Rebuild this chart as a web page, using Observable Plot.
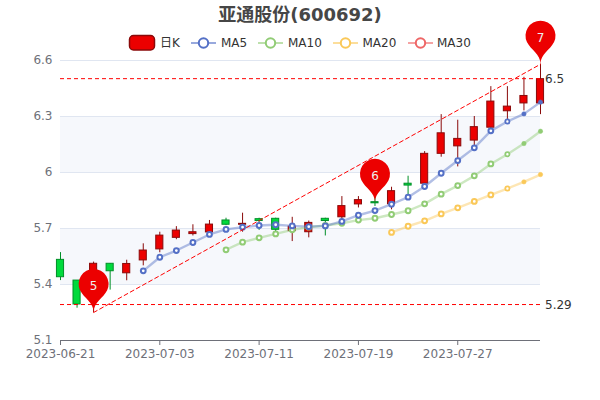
<!DOCTYPE html>
<html><head><meta charset="utf-8">
<script src="https://cdn.jsdelivr.net/npm/d3@7"></script>
<script src="https://cdn.jsdelivr.net/npm/@observablehq/plot@0.6"></script>
<style>
html,body{margin:0;padding:0;background:#fff;width:600px;height:400px;overflow:hidden}
#wrap{position:relative;width:600px;height:400px;font-family:"DejaVu Sans","Noto Sans CJK SC",sans-serif}
#title{position:absolute;left:0;width:600px;top:4px;text-align:center;font-size:18px;font-weight:bold;color:#464646;line-height:22px}
.lg{position:absolute;top:36px;font-size:12px;color:#333;line-height:14px;white-space:nowrap}
.ic{position:absolute;top:35px}
svg.plot{position:absolute;left:0;top:0}
</style></head><body>
<div id="wrap"></div>
<script>
const dates=["2023-06-21","2023-06-26","2023-06-27","2023-06-28","2023-06-29","2023-06-30","2023-07-03","2023-07-04","2023-07-05","2023-07-06","2023-07-07","2023-07-10","2023-07-11","2023-07-12","2023-07-13","2023-07-14","2023-07-17","2023-07-18","2023-07-19","2023-07-20","2023-07-21","2023-07-24","2023-07-25","2023-07-26","2023-07-27","2023-07-28","2023-07-31","2023-08-01","2023-08-02","2023-08-03"];
const open =[5.532,5.421,5.31,5.511,5.46,5.529,5.588,5.65,5.67,5.679,5.743,5.72,5.75,5.752,5.686,5.68,5.752,5.76,5.829,5.841,5.83,5.94,5.94,6.10,6.14,6.171,6.24,6.328,6.37,6.37];
const close=[5.439,5.293,5.511,5.471,5.51,5.582,5.662,5.689,5.68,5.721,5.72,5.725,5.74,5.693,5.71,5.73,5.74,5.82,5.852,5.835,5.90,5.93,6.10,6.21,6.18,6.243,6.38,6.353,6.41,6.50];
const low  =[5.421,5.273,5.25,5.37,5.42,5.50,5.57,5.64,5.66,5.67,5.715,5.68,5.69,5.654,5.63,5.65,5.66,5.738,5.81,5.818,5.80,5.877,5.94,6.082,6.03,6.14,6.225,6.27,6.33,6.31];
const high =[5.571,5.421,5.52,5.511,5.53,5.618,5.68,5.71,5.72,5.743,5.755,5.782,5.755,5.755,5.76,5.74,5.755,5.871,5.871,5.868,5.921,5.98,6.112,6.31,6.28,6.30,6.46,6.46,6.51,6.58];
const ma5 =[null,null,null,null,null,5.473,5.546,5.582,5.625,5.668,5.695,5.707,5.716,5.72,5.714,5.71,5.714,5.738,5.771,5.796,5.83,5.868,5.925,5.996,6.064,6.132,6.223,6.273,6.314,6.377];
const ma10=[null,null,null,null,null,null,null,null,null,null,5.586,5.627,5.65,5.671,5.693,5.707,5.716,5.728,5.745,5.755,5.775,5.795,5.832,5.884,5.93,5.982,6.046,6.098,6.155,6.221];
const ma20=[null,null,null,null,null,null,null,null,null,null,null,null,null,null,null,null,null,null,null,null,5.679,5.712,5.741,5.778,5.811,5.845,5.88,5.914,5.95,5.989];
const yTicks=[5.1,5.4,5.7,6,6.3,6.6];
const tickIdx=[0,6,12,18,24];
const bandsBlue=[[5.4,5.7],[6.0,6.3]];
const hLines=[{v:6.5,t:"6.5"},{v:5.29,t:"5.29"}];
const pins=[{i:2,v:5.25,t:"5"},{i:19,v:5.84,t:"6"},{i:29,v:6.58,t:"7"}];
const slant=[{i:2,v:5.25},{i:29,v:6.58}];

const RED="#ec0000",RED_B="#8a0a0a",GRN="#00da3c",GRN_B="#008f28";
const C5="#5470c6",C10="#91cc75",C20="#fac858",C30="#ee6666";
const rows=dates.map((d,i)=>({i,o:open[i],c:close[i],l:low[i],h:high[i]}));
const up=rows.filter(d=>d.c>=d.o),down=rows.filter(d=>d.c<d.o);
const HW=0.215;

// ECharts-like pin: tip at the anchor point
const pinSymbol={draw(p){
  const r=15,h=50,dy=r*r/(h-r),cy=-h+r+dy,ang=Math.asin(dy/r),dx=Math.cos(ang)*r;
  const tx=Math.sin(ang),ty=Math.cos(ang),c1=r*.6,c2=r*.7;
  p.moveTo(-dx,cy+dy);
  p.arc(0,cy,r,Math.PI-ang,Math.PI*2+ang);
  p.bezierCurveTo(dx-tx*c1,cy+dy+ty*c1,0,-c2,0,0);
  p.bezierCurveTo(0,-c2,-dx+tx*c1,cy+dy+ty*c1,-dx,cy+dy);
  p.closePath();
}};

function maMarks(arr,color){
  const pts=arr.map((v,i)=>({i,v})).filter(d=>d.v!=null);
  const n=pts.length;
  return [
    Plot.line(pts,{x:"i",y:"v",stroke:color,strokeWidth:2.4,strokeOpacity:.45,curve:"linear"}),
    Plot.dot(pts.slice(0,n-3),{x:"i",y:"v",r:2.4,fill:"#fff",stroke:color,strokeWidth:2}),
    Plot.dot(pts.slice(n-3,n-2),{x:"i",y:"v",r:2.1,fill:"#fff",stroke:color,strokeWidth:1.8}),
    Plot.dot(pts.slice(n-2),{x:"i",y:"v",r:2.2,fill:color,stroke:color,strokeWidth:.5})
  ];
}

const chart=Plot.plot({
  width:600,height:400,marginTop:60,marginBottom:60,marginLeft:60,marginRight:60,
  style:{background:"transparent",fontFamily:'"DejaVu Sans","Noto Sans CJK SC",sans-serif',fontSize:"12px",overflow:"visible"},
  x:{type:"linear",domain:[0,29],range:[60,540]},
  y:{type:"linear",domain:[5.1,6.6],range:[340,60]},
  marks:[
    Plot.rect(bandsBlue,{x1:()=>0,x2:()=>29,y1:d=>d[0],y2:d=>d[1],fill:"#f6f8fc"}),
    Plot.ruleY(yTicks.filter(v=>v>5.1),{y:d=>d,x1:()=>0,x2:()=>29,stroke:"#e0e6f1",strokeWidth:1}),
    Plot.axisY(yTicks,{tickSize:0,tickPadding:8,tickFormat:d=>String(d),fill:"#6e7079",fontSize:12,label:null,marginLeft:60}),
    Plot.ruleY([5.1],{x1:()=>0,x2:()=>29,stroke:"#6e7079",strokeWidth:1}),
    Plot.axisX(tickIdx,{tickSize:5,tickPadding:4,tickFormat:i=>dates[i],stroke:"#6e7079",fill:"#6e7079",fontSize:12,label:null,textStroke:"none"}),
    Plot.ruleX(up,{x:"i",y1:"l",y2:"h",stroke:RED_B,strokeWidth:1}),
    Plot.ruleX(down,{x:"i",y1:"l",y2:"h",stroke:GRN_B,strokeWidth:1}),
    Plot.rect(up,{x1:d=>d.i-HW,x2:d=>d.i+HW,y1:"o",y2:"c",fill:RED,stroke:RED_B,strokeWidth:1}),
    Plot.rect(down,{x1:d=>d.i-HW,x2:d=>d.i+HW,y1:"o",y2:"c",fill:GRN,stroke:GRN_B,strokeWidth:1}),
    ...maMarks(ma20,C20),
    ...maMarks(ma10,C10),
    ...maMarks(ma5,C5),
    Plot.ruleY(hLines,{y:"v",x1:()=>0,x2:()=>29,stroke:"#ff0000",strokeWidth:1,strokeDasharray:"4,3",dy:-0.5}),
    Plot.line(slant,{x:"i",y:"v",stroke:"#ff0000",strokeWidth:1,strokeDasharray:"4,3"}),
    Plot.text(hLines,{x:()=>29,y:"v",text:"t",textAnchor:"start",dx:4.5,fill:"#333",fontSize:12}),
    Plot.dot(pins,{x:"i",y:"v",symbol:()=>pinSymbol,fill:RED,stroke:"none"}),
    Plot.text(pins,{x:"i",y:"v",text:"t",dy:-26.5,fill:"#eee",fontSize:12})
  ]
});
const wrap=document.getElementById("wrap");
wrap.appendChild(chart);
const title=document.createElement("div");title.id="title";title.textContent="亚通股份(600692)";wrap.appendChild(title);

// legend
function legendText(x,t){const s=document.createElement("div");s.className="lg";s.style.left=x+"px";s.textContent=t;wrap.appendChild(s);}
function legendLine(x,c){
  const svg=d3.create("svg").attr("class","ic").attr("width",27).attr("height",16).style("left",(x-1)+"px").style("top","35px");
  svg.append("line").attr("x1",1).attr("x2",26).attr("y1",8).attr("y2",8).attr("stroke",c).attr("stroke-width",2).attr("stroke-opacity",.6);
  svg.append("circle").attr("cx",13.5).attr("cy",8).attr("r",4.7).attr("fill","#fff").attr("stroke",c).attr("stroke-width",2);
  wrap.appendChild(svg.node());
}
const k=d3.create("svg").attr("class","ic").attr("width",28).attr("height",18).style("left","128px").style("top","34px");
k.append("rect").attr("x",1.5).attr("y",1.5).attr("width",25).attr("height",14.5).attr("rx",4).attr("fill",RED).attr("stroke",RED_B).attr("stroke-width",1.5);
wrap.appendChild(k.node());
legendText(160,"日K");
[[191,C5,221,"MA5"],[258,C10,288,"MA10"],[333,C20,362.5,"MA20"],[407.5,C30,437,"MA30"]].forEach(([x,c,tx,t])=>{legendLine(x,c);legendText(tx,t);});
</script>
</body></html>
